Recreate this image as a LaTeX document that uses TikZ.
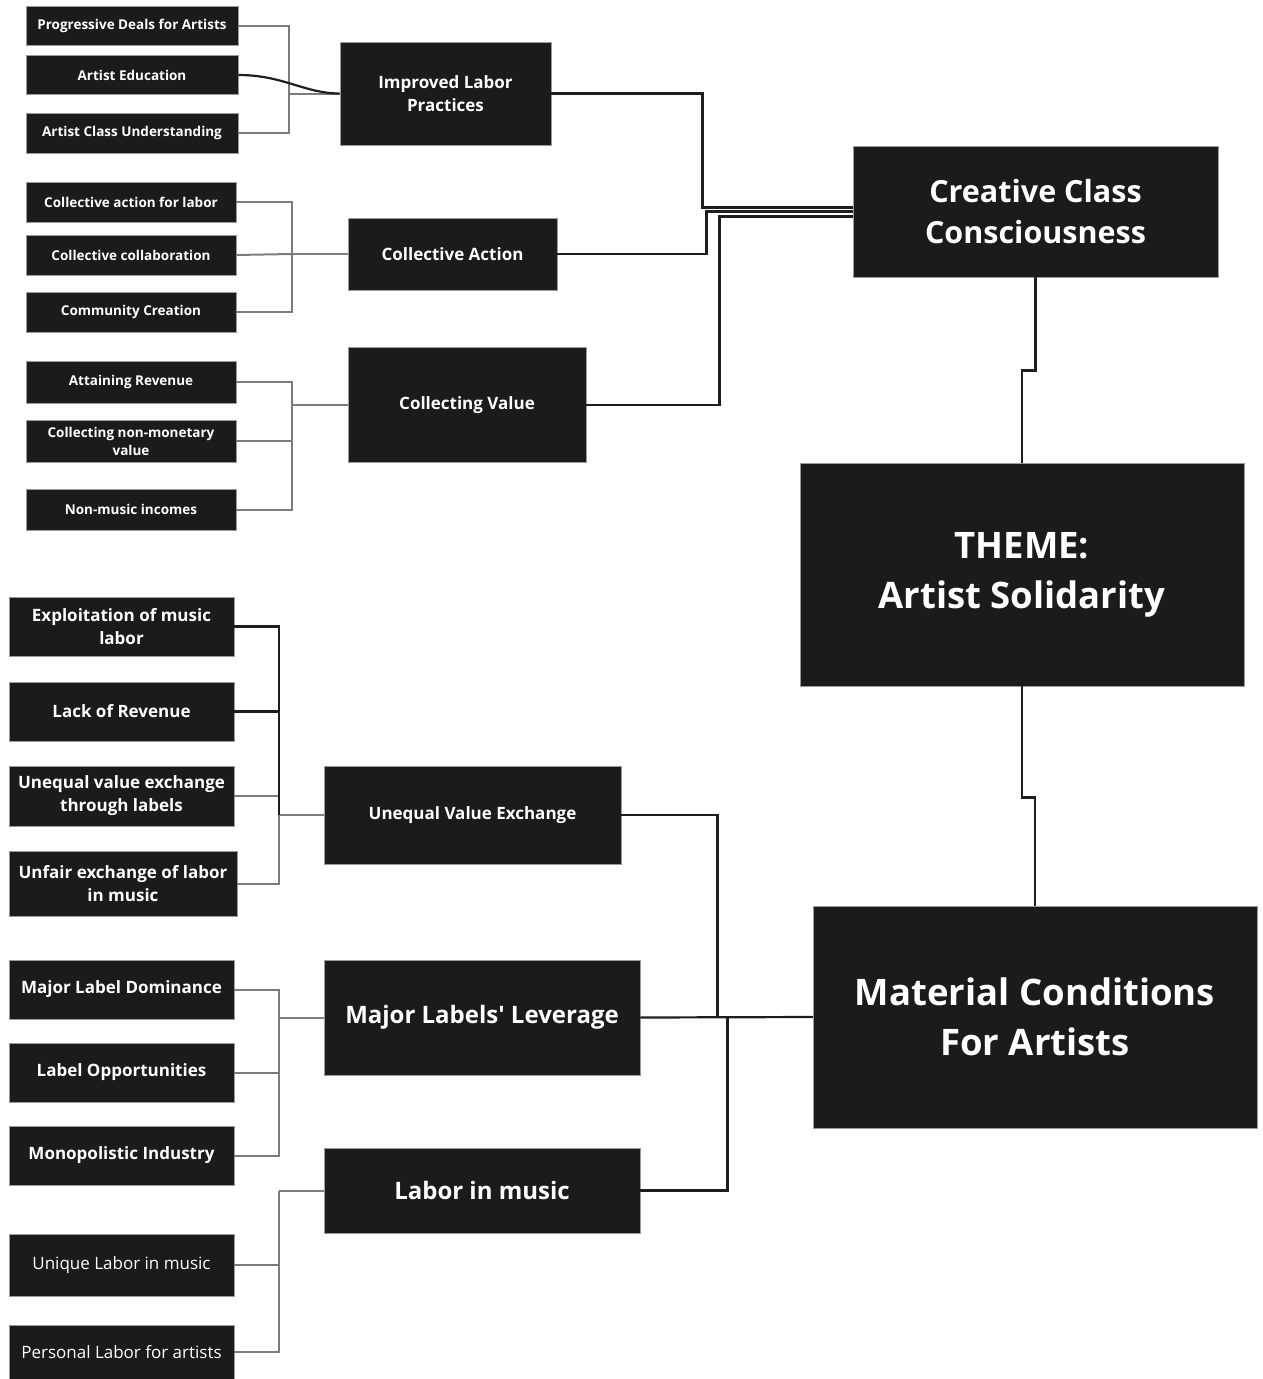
\documentclass[tikz,border=0pt]{standalone}
\usepackage{fontspec}
\setmainfont{Open Sans}[Ligatures=TeXOff]
\usetikzlibrary{positioning}

\definecolor{boxfill}{HTML}{1B1B1B}
\definecolor{boxedge}{HTML}{9A9A9A}
\definecolor{linkgray}{HTML}{7C7C7C}
\definecolor{linkdark}{HTML}{1E1E1E}

\begin{document}
\begin{tikzpicture}[
    x=1pt, y=-1pt,
    box/.style={rectangle, draw=boxedge, line width=0.8pt, fill=boxfill, text=white,
                inner sep=0pt, align=center},
    leaf/.style={box, font=\bfseries\fontsize{13.5}{18}\selectfont},
    leafb/.style={box, font=\bfseries\fontsize{17}{23}\selectfont},
    leafr/.style={box, font=\fontsize{17}{23}\selectfont},
    mid/.style={box, font=\bfseries\fontsize{17}{23}\selectfont},
    midb/.style={box, font=\bfseries\fontsize{24}{30}\selectfont},
    big/.style={box, font=\bfseries\fontsize{30.5}{41}\selectfont},
    huge/.style={box, font=\bfseries\fontsize{36.5}{50}\selectfont},
    gline/.style={draw=linkgray, line width=2pt},
    bline/.style={draw=linkdark, line width=2.2pt},
]
    \useasboundingbox (0,0) rectangle (1262,1379);

    \node[leaf, minimum width=212, minimum height=39] (prog) at (132,25.5) {Progressive Deals for Artists};
    \node[leaf, minimum width=212, minimum height=39] (edu)  at (132,75)   {Artist Education};
    \node[leaf, minimum width=212, minimum height=40] (acu)  at (132,133)  {Artist Class Understanding};
    \node[mid, minimum width=211, minimum height=103] (ilp)  at (445.5,93.5) {Improved Labor\\Practices};

    \node[leaf, minimum width=210, minimum height=40] (cal)  at (131,202)  {Collective action for labor};
    \node[leaf, minimum width=210, minimum height=40] (ccol) at (131,255)  {Collective collaboration};
    \node[leaf, minimum width=210, minimum height=40] (ccre) at (131,312)  {Community Creation};
    \node[mid, minimum width=209, minimum height=72]  (ca)   at (452.5,254) {Collective Action};

    \node[leaf, minimum width=210, minimum height=42] (ar)   at (131,382)  {Attaining Revenue};
    \node[leaf, minimum width=210, minimum height=42] (cnmv) at (131,441)  {Collecting non-monetary\\value};
    \node[leaf, minimum width=210, minimum height=41] (nmi)  at (131,509.5) {Non-music incomes};
    \node[mid, minimum width=238, minimum height=115] (cv)   at (467,405)  {Collecting Value};

    \node[big, minimum width=365, minimum height=131]  (ccc)   at (1035.5,211.5) {Creative Class\\Consciousness};
    \node[huge, minimum width=444, minimum height=223] (theme) at (1022,574.5)   {THEME:\\Artist Solidarity};
    \node[huge, minimum width=444, minimum height=222] (mca)   at (1035,1017)    {Material Conditions\\For Artists};

    \node[leafb, minimum width=225, minimum height=59] (exp) at (121.5,626.5) {Exploitation of music\\labor};
    \node[leafb, minimum width=225, minimum height=59] (lor) at (121.5,711.5) {Lack of Revenue};
    \node[leafb, minimum width=225, minimum height=60] (uvl) at (121.5,796)   {Unequal value exchange\\through labels};
    \node[leafb, minimum width=228, minimum height=65] (uel) at (123,883.5)   {Unfair exchange of labor\\in music};
    \node[mid, minimum width=297, minimum height=98]   (uve) at (472.5,815)   {Unequal Value Exchange};

    \node[leafb, minimum width=225, minimum height=59] (mld) at (121.5,989.5)  {Major Label Dominance};
    \node[leafb, minimum width=225, minimum height=59] (lop) at (121.5,1072.5) {Label Opportunities};
    \node[leafb, minimum width=225, minimum height=59] (mpi) at (121.5,1155.5) {Monopolistic Industry};
    \node[midb, minimum width=316, minimum height=115] (mll) at (482,1017.5)   {Major Labels' Leverage};

    \node[midb, minimum width=316, minimum height=85]  (lim) at (482,1190.5)   {Labor in music};
    \node[leafr, minimum width=225, minimum height=62] (ulm) at (121.5,1265)   {Unique Labor in music};
    \node[leafr, minimum width=225, minimum height=54] (pla) at (121.5,1352)   {Personal Labor for artists};

    \draw[gline] (ilp.west) -- ++(-51,0) coordinate (ilpbus);
    \draw[gline] (prog.east) -| (ilpbus);
    \draw[gline] (acu.east) -| (ilpbus);
    \draw[bline] (edu.east) .. controls +(45,0) and +(-35,0) .. (ilp.west);

    \draw[gline] (ca.west) -- ++(-56,0) coordinate (cabus);
    \draw[gline] (cal.east) -| (cabus);
    \draw[gline] (ccol.east) -- (cabus);
    \draw[gline] (ccre.east) -| (cabus);

    \draw[gline] (cv.west) -- ++(-56,0) coordinate (cvbus);
    \draw[gline] (ar.east) -| (cvbus);
    \draw[gline] (cnmv.east) -| (cvbus);
    \draw[gline] (nmi.east) -| (cvbus);

    \draw[bline] (ilp.east) -- ++(151,0) |- ([yshift=4pt]ccc.west);
    \draw[bline] (ca.east) -- ++(149,0) |- (ccc.west);
    \draw[bline] (cv.east) -- ++(133,0) |- ([yshift=-5pt]ccc.west);

    \draw[bline] (ccc.south) -- ++(0,93) -| (theme.north);
    \draw[bline] (theme.south) -- ++(0,111) -| (mca.north);

    \draw[gline] (uve.west) -- ++(-45,0) coordinate (uvebus);
    \draw[gline] (uvl.east) -| (uvebus);
    \draw[gline] (uel.east) -| (uvebus);
    \draw[bline] (exp.east) -| (uvebus);
    \draw[bline] (lor.east) -| (uvebus);

    \draw[gline] (mll.west) -- ++(-45,0) coordinate (mllbus);
    \draw[gline] (mld.east) -| (mllbus);
    \draw[gline] (lop.east) -| (mllbus);
    \draw[gline] (mpi.east) -| (mllbus);

    \draw[gline] (lim.west) -- ++(-45,0) coordinate (limbus);
    \draw[gline] (ulm.east) -| (limbus);
    \draw[gline] (pla.east) -| (limbus);

    \draw[bline] (uve.east) -- ++(96,0) |- (mca.west);
    \draw[bline] (mll.east) -- (mca.west);
    \draw[bline] (lim.east) -- ++(87,0) |- (mca.west);
\end{tikzpicture}
\end{document}
